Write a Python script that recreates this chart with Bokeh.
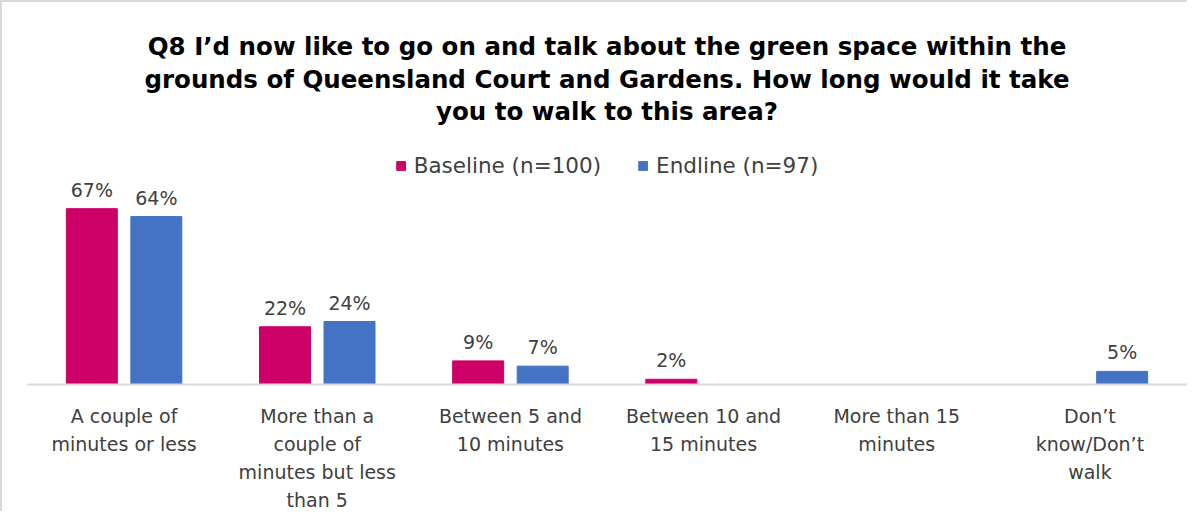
from bokeh.plotting import figure
from bokeh.models import ColumnDataSource, Legend, LegendItem, FactorRange, Title
from bokeh.transform import dodge
from bokeh.core.properties import value
from bokeh.embed import file_html
from bokeh.resources import INLINE

categories = ["A couple of\nminutes or less",
              "More than a\ncouple of\nminutes but less\nthan 5",
              "Between 5 and\n10 minutes",
              "Between 10 and\n15 minutes",
              "More than 15\nminutes",
              "Don\u2019t\nknow/Don\u2019t\nwalk"]
baseline = [67, 22, 9, 2, 0, 0]
endline = [64, 24, 7, 0, 0, 5]
series_names = ["Baseline (n=100)", "Endline (n=97)"]
title_lines = ["Q8 I\u2019d now like to go on and talk about the green space within the",
               "grounds of Queensland Court and Gardens. How long would it take",
               "you to walk to this area?"]

BASE_COL = "#CC0066"
END_COL = "#4472C4"
FONT = "DejaVu Sans"

src = ColumnDataSource(dict(
    cat=categories,
    base=baseline,
    end=endline,
    base_lbl=[f"{v}%" if v > 0 else "" for v in baseline],
    end_lbl=[f"{v}%" if v > 0 else "" for v in endline],
))

p = figure(x_range=FactorRange(*categories, range_padding=0), y_range=(0, 98.7),
           width=1187, height=511, output_backend="svg", toolbar_location=None,
           min_border_left=25, min_border_right=3, min_border_top=0, min_border_bottom=0,
           title=None)

standoffs = [2, 2, 0]
for line, s in reversed(list(zip(title_lines, standoffs))):
    t = Title(text=line, align="center", text_font=FONT, text_font_size="24.5px",
              text_font_style="bold", text_color="#000000", standoff=s)
    p.add_layout(t, "above")
p.add_layout(Title(text=" ", text_font_size="10px", standoff=13), "above")

off = 0.167
w = 0.264
r1 = p.vbar(x=dodge("cat", -off, range=p.x_range), top="base", width=w, source=src,
            fill_color=BASE_COL, line_color=BASE_COL)
r2 = p.vbar(x=dodge("cat", off, range=p.x_range), top="end", width=w, source=src,
            fill_color=END_COL, line_color=END_COL)

for col, lbl, o in (("base", "base_lbl", -off), ("end", "end_lbl", off)):
    p.text(x=dodge("cat", o, range=p.x_range), y=col, text=lbl, source=src,
           text_align="center", text_baseline="bottom", y_offset=-8,
           text_font=value(FONT), text_font_size="19px", text_color="#404040")

legend = Legend(items=[LegendItem(label=series_names[0], renderers=[r1]),
                       LegendItem(label=series_names[1], renderers=[r2])],
                orientation="horizontal", location="top_center",
                label_text_font=FONT, label_text_font_size="21.5px",
                label_text_color="#404040", glyph_width=11, glyph_height=11,
                spacing=36, label_standoff=8, margin=28, padding=4,
                border_line_color=None, background_fill_alpha=0)
p.add_layout(legend)

p.yaxis.visible = False
p.xgrid.grid_line_color = None
p.ygrid.grid_line_color = None
p.outline_line_color = None

xa = p.xaxis[0]
xa.axis_line_color = "#D9D9D9"
xa.axis_line_width = 2
xa.major_tick_line_color = None
xa.minor_tick_line_color = None
xa.major_label_text_font = FONT
xa.major_label_text_font_size = "19px"
xa.major_label_text_color = "#404040"
xa.major_label_text_line_height = 1.28
xa.major_label_standoff = 14
xa.major_label_orientation = "horizontal"

p.styles = {"border-left": "2px solid #D9D9D9", "border-top": "2px solid #D9D9D9"}

open("out.html", "w").write(file_html(p, INLINE))
